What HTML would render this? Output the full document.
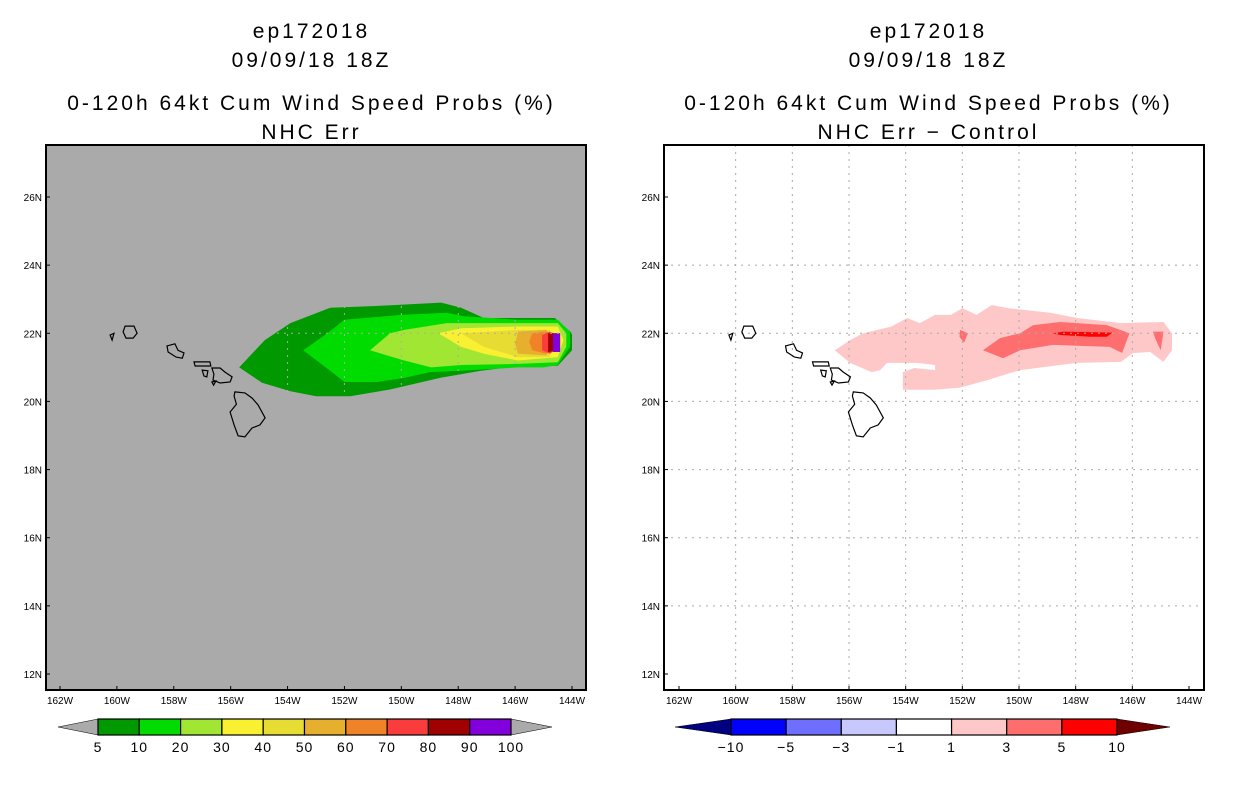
<!DOCTYPE html>
<html><head><meta charset="utf-8"><style>
html,body{margin:0;padding:0;background:#fff;}
svg{display:block;font-family:"Liberation Sans",sans-serif;}
</style></head><body>
<svg id="c" width="1236" height="800" viewBox="0 0 1236 800"></svg>
<script>
// ---- data ----
const lonTicks=[162,160,158,156,154,152,150,148,146,144];
const latTicks=[26,24,22,20,18,16,14,12];
const leftLevels=["5","10","20","30","40","50","60","70","80","90","100"];
const leftColors=["#009900","#00dc00","#a0e632","#faf032","#e6dc32","#e6af2d","#f08228","#fa3c3c","#a00000","#8200dc"];
const rightLevels=["-10","-5","-3","-1","1","3","5","10"];
const rightColors=["#0000ff","#6e6eff","#c8c8ff","#ffffff","#ffc8c8","#ff6e6e","#ff0000"];
const probL5=[[155.7,21.0],[154.8,21.8],[153.9,22.3],[152.5,22.75],[150.9,22.8],[148.6,22.9],[147.9,22.75],[147.1,22.45],[144.6,22.45],[144.0,22.0],[144.0,21.5],[144.5,21.05],[145.8,21.05],[147.2,20.9],[148.6,20.7],[150.4,20.35],[151.8,20.15],[153.0,20.15],[153.9,20.3],[154.9,20.55]];
const probL10=[[153.45,21.5],[152.6,22.0],[152.0,22.4],[150.0,22.54],[148.4,22.6],[147.8,22.5],[145.9,22.4],[144.5,22.4],[144.07,22.04],[144.07,21.6],[144.5,21.07],[145.0,21.0],[145.9,21.0],[147.9,20.9],[149.0,20.86],[149.9,20.69],[150.85,20.57],[152.0,20.57],[152.5,20.9]];
const probL20=[[151.1,21.5],[150.4,22.0],[149.9,22.1],[148.4,22.3],[145.9,22.3],[144.5,22.3],[144.2,22.0],[144.2,21.6],[144.5,21.15],[145.9,21.1],[147.9,21.07],[148.95,21.0],[149.9,21.2]];
const probL30=[[148.7,22.0],[147.9,22.15],[145.9,22.2],[144.5,22.2],[144.3,21.8],[144.5,21.3],[145.9,21.2],[147.1,21.4],[147.9,21.6]];
const probL40=[[147.9,22.0],[145.9,22.1],[144.8,22.1],[144.5,21.8],[144.8,21.3],[145.9,21.3],[147.1,21.6]];
const probL50=[[145.9,22.05],[144.9,22.1],[144.6,21.8],[144.9,21.35],[145.9,21.4],[146.0,21.7]];
const probL60=[[145.4,22.0],[144.9,22.05],[144.67,21.8],[144.9,21.4],[145.4,21.5],[145.5,21.75]];
const probL70=[[145.05,21.95],[144.78,22.05],[144.5,21.95],[144.5,21.57],[144.78,21.4],[145.05,21.5]];
const probL80=[[144.84,22.0],[144.42,22.0],[144.42,21.5],[144.84,21.45]];
const probL90=[[144.67,22.0],[144.42,22.0],[144.42,21.45],[144.67,21.45]];
const diffR1=[[156.5,21.5],[155.96,21.8],[155.5,22.0],[154.5,22.2],[153.95,22.45],[153.5,22.3],[152.96,22.54],[152.4,22.54],[152.0,22.74],[151.5,22.54],[150.96,22.83],[150.4,22.74],[148.9,22.6],[147.95,22.45],[146.4,22.3],[144.9,22.33],[144.6,22.0],[144.6,21.5],[144.9,21.16],[145.37,21.45],[145.97,21.42],[146.4,21.16],[147.95,21.13],[149.96,20.92],[151.1,20.63],[152.1,20.4],[153.0,20.34],[154.1,20.34],[154.1,20.86],[153.7,20.98],[152.96,20.92],[152.96,21.07],[153.6,21.13],[154.66,21.13],[154.9,20.92],[155.2,20.86],[155.96,21.13]];
const diffR3a=[[151.27,21.5],[150.67,21.86],[149.96,22.0],[149.5,22.24],[148.55,22.33],[146.9,22.24],[146.1,22.0],[146.36,21.42],[146.8,21.6],[148.8,21.66],[149.96,21.5],[150.56,21.27]];
const diffR3b=[[152.08,22.1],[151.8,22.0],[151.94,21.72],[152.1,21.9]];
const diffR3c=[[145.27,22.05],[144.9,22.05],[145.0,21.5],[145.2,21.86]];
const diffR5=[[148.8,22.0],[148.45,22.05],[146.7,22.02],[146.9,21.9],[147.5,21.9],[148.55,21.95]];
const islands={
 "big-island":[[155.85,20.28],[155.5,20.25],[155.25,20.1],[155.04,19.9],[154.79,19.52],[154.97,19.31],[155.25,19.22],[155.5,18.96],[155.74,18.99],[155.88,19.31],[156.02,19.69],[155.8,19.92],[155.88,20.16]],
 "maui":[[156.66,20.98],[156.37,20.98],[156.2,20.86],[155.95,20.72],[156.02,20.57],[156.37,20.54],[156.62,20.63],[156.59,20.8]],
 "oahu":[[158.24,21.63],[157.96,21.69],[157.85,21.5],[157.64,21.42],[157.7,21.27],[157.92,21.3],[158.2,21.45]],
 "molokai":[[157.29,21.16],[156.73,21.16],[156.7,21.04],[157.25,21.04]],
 "lanai":[[157.0,20.92],[156.8,20.9],[156.84,20.72],[156.94,20.75]],
 "kahoolawe":[[156.66,20.57],[156.52,20.6],[156.6,20.48]],
 "kauai":[[159.71,22.21],[159.4,22.21],[159.29,22.0],[159.43,21.86],[159.68,21.86],[159.78,22.04]],
 "niihau":[[160.24,21.95],[160.1,22.0],[160.17,21.8]]
};
// ---- drawing ----
const NS="http://www.w3.org/2000/svg";
const svg=document.getElementById('c');
function mk(tag,attrs,parent){const e=document.createElementNS(NS,tag);for(const k in attrs)e.setAttribute(k,attrs[k]);(parent||svg).appendChild(e);return e;}
const panels=[
 {x0:46,x1:586,lonX162:60,lonX144:572,bg:"#aaaaaa",titles:["ep172018","09/09/18 18Z","0-120h 64kt Cum Wind Speed Probs (%)","NHC Err"],cx:310,name:"left"},
 {x0:664,x1:1204,lonX162:679,lonX144:1189,bg:"#ffffff",titles:["ep172018","09/09/18 18Z","0-120h 64kt Cum Wind Speed Probs (%)","NHC Err \u2212 Control"],cx:927,name:"right"}
];
const yTop=145,yBot=690,y26=197,y12=674;
function yS(lat){return y26+(26-lat)*(y12-y26)/14;}
panels.forEach(p=>{
 p.xS=lon=>p.lonX162+(162-lon)*(p.lonX144-p.lonX162)/18;
 const g=mk('g',{});
 
 
 const ty=[38,67,110,139];
 p.titles.forEach((t,i)=>{const e=mk('text',{x:p.cx+1.5,y:ty[i],'text-anchor':'middle','font-size':21,'letter-spacing':3,fill:'#000'},g);e.textContent=t;
  });
 const bg=mk('rect',{x:p.x0,y:yTop,width:p.x1-p.x0,height:yBot-yTop,fill:p.bg},g);
 
 p.g=g;
});
function poly(p,pts,fill,name,stroke){
 const e=mk('polygon',{points:pts.map(q=>p.xS(q[0]).toFixed(1)+','+yS(q[1]).toFixed(1)).join(' '),fill:fill,stroke:stroke||'none','stroke-width':stroke?1.2:0},p.g);
 return e;
}
const L=panels[0],R=panels[1];
[probL5,probL10,probL20,probL30,probL40,probL50,probL60,probL70,probL80,probL90].forEach((pts,i)=>poly(L,pts,leftColors[i],'prob-contour-'+leftLevels[i]));
poly(R,diffR1,rightColors[4],'diff-contour-1-3');
poly(R,diffR3a,rightColors[5],'diff-contour-3-5');
poly(R,diffR3b,rightColors[5],'diff-contour-3-5-small-a');
poly(R,diffR3c,rightColors[5],'diff-contour-3-5-small-b');
poly(R,diffR5,rightColors[6],'diff-contour-5-10');
panels.forEach(p=>{
 lonTicks.slice(1,-1).forEach(lon=>{const e=mk('line',{x1:p.xS(lon),x2:p.xS(lon),y1:yTop,y2:yBot,stroke:'#aaaaaa','stroke-width':1,'stroke-dasharray':'2,5'},p.g);
  });
 latTicks.slice(1,-1).forEach(lat=>{const e=mk('line',{x1:p.x0,x2:p.x1,y1:yS(lat),y2:yS(lat),stroke:'#aaaaaa','stroke-width':1,'stroke-dasharray':'2,5'},p.g);
  });
 for(const k in islands){poly(p,islands[k],'none','island-'+k,'#000');}
 const fr=mk('rect',{x:p.x0,y:yTop,width:p.x1-p.x0,height:yBot-yTop,fill:'none',stroke:'#000','stroke-width':2},p.g);
 
 lonTicks.forEach(lon=>{const x=p.xS(lon);mk('line',{x1:x,x2:x,y1:yBot,y2:yBot-4,stroke:'#000'},p.g);
  const t=mk('text',{x:x,y:yBot+14,'text-anchor':'middle','font-size':10,fill:'#000'},p.g);t.textContent=lon+'W';
  });
 latTicks.forEach(lat=>{const y=yS(lat);mk('line',{x1:p.x0,x2:p.x0+4,y1:y,y2:y,stroke:'#000'},p.g);
  const t=mk('text',{x:p.x0-4,y:y+4,'text-anchor':'end','font-size':10,fill:'#000'},p.g);t.textContent=lat+'N';
  });
});
function colorbar(g,x0,x1,tl,tr,colors,labels,leftTri,rightTri,name){
 const cb=mk('g',{});
 const y0=719,y1=735,ym=727,n=colors.length,w=(x1-x0)/n;
 let e=mk('polygon',{points:`${x0},${y0} ${tl},${ym} ${x0},${y1}`,fill:leftTri,stroke:'#000','stroke-width':0.5},cb);
 
 e=mk('polygon',{points:`${x1},${y0} ${tr},${ym} ${x1},${y1}`,fill:rightTri,stroke:'#000','stroke-width':0.5},cb);
 
 colors.forEach((c,i)=>{const r=mk('rect',{x:x0+i*w,y:y0,width:w,height:y1-y0,fill:c,stroke:'#000','stroke-width':1.2},cb);
  });
 labels.forEach((l,i)=>{const t=mk('text',{x:x0+i*w,y:752,'text-anchor':'middle','font-size':14,'letter-spacing':1,fill:'#000'},cb);t.textContent=l.replace('-','\u2212');
  });
}
colorbar(svg,98,511,58,552,leftColors,leftLevels,'#aaaaaa','#aaaaaa','left-colorbar');
colorbar(svg,731,1117,675,1170,rightColors,rightLevels,'#000080','#6e0000','right-colorbar');
</script>
</body></html>
